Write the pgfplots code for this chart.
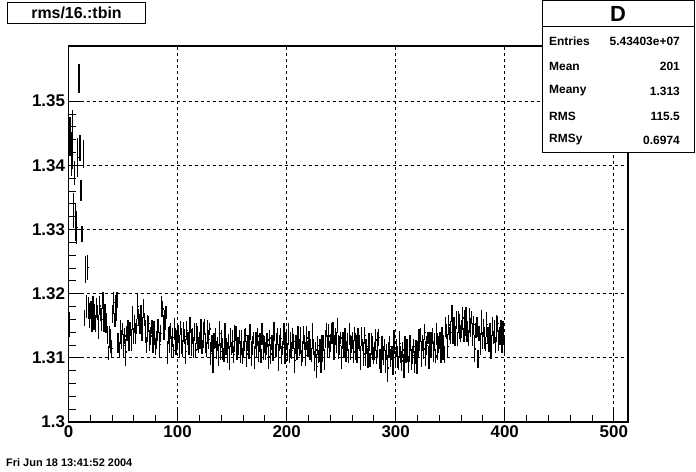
\documentclass[border=0pt]{standalone}
\usepackage{fontspec}
\setmainfont{Liberation Sans}
\usepackage{pgfplots}
\usepackage{pgfplotstable}
\pgfplotsset{compat=1.18}

\pgfplotstableread{
x y e
0.5 1.3152 0.0020
1.5 1.3445 0.0030
2.5 1.3418 0.0034
3.5 1.3440 0.0046
4.5 1.3330 0.0027
5.5 1.3388 0.0018
6.5 1.3312 0.0030
7.5 1.3303 0.0026
8.5 1.3412 0.0030
9.5 1.3535 0.0023
10.5 1.3427 0.0020
11.5 1.3361 0.0016
12.5 1.3293 0.0013
13.5 1.3418 0.0022
14.5 1.3162 0.0013
15.5 1.3237 0.0021
16.5 1.3180 0.0018
17.5 1.3241 0.0019
18.5 1.3178 0.0017
19.5 1.3166 0.0020
20.5 1.3175 0.0014
21.5 1.3157 0.0017
22.5 1.3185 0.0011
23.5 1.3164 0.0020
24.5 1.3153 0.0013
25.5 1.3178 0.0016
26.5 1.3171 0.0012
27.5 1.3148 0.0019
28.5 1.3181 0.0015
29.5 1.3168 0.0010
30.5 1.3160 0.0018
31.5 1.3189 0.0013
32.5 1.3162 0.0021
33.5 1.3172 0.0012
34.5 1.3154 0.0016
35.5 1.3136 0.0014
36.5 1.3107 0.0011
37.5 1.3133 0.0017
38.5 1.3126 0.0019
39.5 1.3115 0.0013
40.5 1.3169 0.0014
41.5 1.3186 0.0017
42.5 1.3159 0.0011
43.5 1.3178 0.0020
44.5 1.3190 0.0013
45.5 1.3123 0.0016
46.5 1.3113 0.0012
47.5 1.3140 0.0019
48.5 1.3129 0.0015
49.5 1.3145 0.0010
50.5 1.3119 0.0018
51.5 1.3134 0.0013
52.5 1.3109 0.0021
53.5 1.3138 0.0012
54.5 1.3143 0.0016
55.5 1.3124 0.0014
56.5 1.3145 0.0011
57.5 1.3128 0.0017
58.5 1.3162 0.0019
59.5 1.3134 0.0013
60.5 1.3153 0.0014
61.5 1.3138 0.0017
62.5 1.3150 0.0011
63.5 1.3180 0.0020
64.5 1.3163 0.0013
65.5 1.3153 0.0016
66.5 1.3170 0.0012
67.5 1.3145 0.0019
68.5 1.3177 0.0015
69.5 1.3160 0.0010
70.5 1.3141 0.0018
71.5 1.3120 0.0013
72.5 1.3145 0.0021
73.5 1.3153 0.0012
74.5 1.3127 0.0016
75.5 1.3134 0.0014
76.5 1.3148 0.0011
77.5 1.3124 0.0017
78.5 1.3139 0.0019
79.5 1.3118 0.0013
80.5 1.3128 0.0014
81.5 1.3143 0.0017
82.5 1.3150 0.0011
83.5 1.3121 0.0020
84.5 1.3138 0.0013
85.5 1.3180 0.0016
86.5 1.3176 0.0012
87.5 1.3147 0.0019
88.5 1.3159 0.0015
89.5 1.3171 0.0010
90.5 1.3108 0.0018
91.5 1.3135 0.0013
92.5 1.3128 0.0021
93.5 1.3142 0.0012
94.5 1.3118 0.0016
95.5 1.3132 0.0014
96.5 1.3111 0.0011
97.5 1.3145 0.0017
98.5 1.3124 0.0019
99.5 1.3129 0.0013
100.5 1.3137 0.0014
101.5 1.3119 0.0017
102.5 1.3147 0.0011
103.5 1.3126 0.0020
104.5 1.3115 0.0013
105.5 1.3140 0.0016
106.5 1.3133 0.0012
107.5 1.3110 0.0019
108.5 1.3143 0.0015
109.5 1.3130 0.0010
110.5 1.3122 0.0018
111.5 1.3151 0.0013
112.5 1.3124 0.0021
113.5 1.3134 0.0012
114.5 1.3116 0.0016
115.5 1.3141 0.0014
116.5 1.3112 0.0011
117.5 1.3138 0.0017
118.5 1.3131 0.0019
119.5 1.3120 0.0013
120.5 1.3127 0.0014
121.5 1.3144 0.0017
122.5 1.3117 0.0011
123.5 1.3136 0.0020
124.5 1.3148 0.0013
125.5 1.3123 0.0016
126.5 1.3113 0.0012
127.5 1.3140 0.0019
128.5 1.3129 0.0015
129.5 1.3145 0.0010
130.5 1.3107 0.0018
131.5 1.3122 0.0013
132.5 1.3097 0.0021
133.5 1.3126 0.0012
134.5 1.3131 0.0016
135.5 1.3112 0.0014
136.5 1.3121 0.0011
137.5 1.3104 0.0017
138.5 1.3138 0.0019
139.5 1.3110 0.0013
140.5 1.3129 0.0014
141.5 1.3114 0.0017
142.5 1.3105 0.0011
143.5 1.3135 0.0020
144.5 1.3118 0.0013
145.5 1.3108 0.0016
146.5 1.3125 0.0012
147.5 1.3100 0.0019
148.5 1.3132 0.0015
149.5 1.3115 0.0010
150.5 1.3126 0.0018
151.5 1.3105 0.0013
152.5 1.3130 0.0021
153.5 1.3138 0.0012
154.5 1.3112 0.0016
155.5 1.3119 0.0014
156.5 1.3133 0.0011
157.5 1.3109 0.0017
158.5 1.3124 0.0019
159.5 1.3103 0.0013
160.5 1.3113 0.0014
161.5 1.3128 0.0017
162.5 1.3135 0.0011
163.5 1.3106 0.0020
164.5 1.3123 0.0013
165.5 1.3114 0.0016
166.5 1.3140 0.0012
167.5 1.3107 0.0019
168.5 1.3119 0.0015
169.5 1.3131 0.0010
170.5 1.3100 0.0018
171.5 1.3127 0.0013
172.5 1.3120 0.0021
173.5 1.3134 0.0012
174.5 1.3110 0.0016
175.5 1.3124 0.0014
176.5 1.3103 0.0011
177.5 1.3137 0.0017
178.5 1.3116 0.0019
179.5 1.3121 0.0013
180.5 1.3110 0.0014
181.5 1.3121 0.0017
182.5 1.3128 0.0011
183.5 1.3102 0.0020
184.5 1.3131 0.0013
185.5 1.3106 0.0016
186.5 1.3124 0.0012
187.5 1.3114 0.0019
188.5 1.3141 0.0015
189.5 1.3112 0.0010
190.5 1.3120 0.0018
191.5 1.3133 0.0013
192.5 1.3100 0.0021
193.5 1.3123 0.0012
194.5 1.3130 0.0016
195.5 1.3105 0.0014
196.5 1.3116 0.0011
197.5 1.3137 0.0017
198.5 1.3109 0.0019
199.5 1.3127 0.0013
200.5 1.3109 0.0014
201.5 1.3137 0.0017
202.5 1.3103 0.0011
203.5 1.3120 0.0020
204.5 1.3111 0.0013
205.5 1.3130 0.0016
206.5 1.3125 0.0012
207.5 1.3096 0.0019
208.5 1.3121 0.0015
209.5 1.3106 0.0010
210.5 1.3132 0.0018
211.5 1.3116 0.0013
212.5 1.3127 0.0021
213.5 1.3100 0.0012
214.5 1.3110 0.0016
215.5 1.3135 0.0014
216.5 1.3123 0.0011
217.5 1.3104 0.0017
218.5 1.3131 0.0019
219.5 1.3114 0.0013
220.5 1.3128 0.0014
221.5 1.3113 0.0017
222.5 1.3104 0.0011
223.5 1.3134 0.0020
224.5 1.3117 0.0013
225.5 1.3095 0.0016
226.5 1.3112 0.0012
227.5 1.3087 0.0019
228.5 1.3119 0.0015
229.5 1.3102 0.0010
230.5 1.3111 0.0018
231.5 1.3090 0.0013
232.5 1.3115 0.0021
233.5 1.3123 0.0012
234.5 1.3097 0.0016
235.5 1.3129 0.0014
236.5 1.3143 0.0011
237.5 1.3119 0.0017
238.5 1.3134 0.0019
239.5 1.3113 0.0013
240.5 1.3123 0.0014
241.5 1.3138 0.0017
242.5 1.3145 0.0011
243.5 1.3116 0.0020
244.5 1.3133 0.0013
245.5 1.3124 0.0016
246.5 1.3150 0.0012
247.5 1.3117 0.0019
248.5 1.3119 0.0015
249.5 1.3131 0.0010
250.5 1.3100 0.0018
251.5 1.3127 0.0013
252.5 1.3120 0.0021
253.5 1.3134 0.0012
254.5 1.3110 0.0016
255.5 1.3124 0.0014
256.5 1.3103 0.0011
257.5 1.3137 0.0017
258.5 1.3116 0.0019
259.5 1.3121 0.0013
260.5 1.3127 0.0014
261.5 1.3109 0.0017
262.5 1.3137 0.0011
263.5 1.3116 0.0020
264.5 1.3105 0.0013
265.5 1.3130 0.0016
266.5 1.3123 0.0012
267.5 1.3100 0.0019
268.5 1.3133 0.0015
269.5 1.3120 0.0010
270.5 1.3106 0.0018
271.5 1.3135 0.0013
272.5 1.3108 0.0021
273.5 1.3118 0.0012
274.5 1.3100 0.0016
275.5 1.3125 0.0014
276.5 1.3096 0.0011
277.5 1.3122 0.0017
278.5 1.3115 0.0019
279.5 1.3104 0.0013
280.5 1.3111 0.0014
281.5 1.3128 0.0017
282.5 1.3101 0.0011
283.5 1.3120 0.0020
284.5 1.3132 0.0013
285.5 1.3098 0.0016
286.5 1.3088 0.0012
287.5 1.3115 0.0019
288.5 1.3104 0.0015
289.5 1.3120 0.0010
290.5 1.3094 0.0018
291.5 1.3109 0.0013
292.5 1.3084 0.0021
293.5 1.3113 0.0012
294.5 1.3118 0.0016
295.5 1.3099 0.0014
296.5 1.3108 0.0011
297.5 1.3091 0.0017
298.5 1.3125 0.0019
299.5 1.3097 0.0013
300.5 1.3116 0.0014
301.5 1.3101 0.0017
302.5 1.3092 0.0011
303.5 1.3122 0.0020
304.5 1.3105 0.0013
305.5 1.3095 0.0016
306.5 1.3112 0.0012
307.5 1.3087 0.0019
308.5 1.3119 0.0015
309.5 1.3102 0.0010
310.5 1.3111 0.0018
311.5 1.3090 0.0013
312.5 1.3115 0.0021
313.5 1.3123 0.0012
314.5 1.3097 0.0016
315.5 1.3104 0.0014
316.5 1.3118 0.0011
317.5 1.3094 0.0017
318.5 1.3109 0.0019
319.5 1.3088 0.0013
320.5 1.3113 0.0014
321.5 1.3128 0.0017
322.5 1.3135 0.0011
323.5 1.3106 0.0020
324.5 1.3123 0.0013
325.5 1.3114 0.0016
326.5 1.3140 0.0012
327.5 1.3107 0.0019
328.5 1.3119 0.0015
329.5 1.3131 0.0010
330.5 1.3100 0.0018
331.5 1.3127 0.0013
332.5 1.3120 0.0021
333.5 1.3134 0.0012
334.5 1.3110 0.0016
335.5 1.3124 0.0014
336.5 1.3103 0.0011
337.5 1.3137 0.0017
338.5 1.3116 0.0019
339.5 1.3121 0.0013
340.5 1.3127 0.0014
341.5 1.3109 0.0017
342.5 1.3137 0.0011
343.5 1.3116 0.0020
344.5 1.3105 0.0013
345.5 1.3148 0.0016
346.5 1.3141 0.0012
347.5 1.3118 0.0019
348.5 1.3151 0.0015
349.5 1.3138 0.0010
350.5 1.3140 0.0018
351.5 1.3169 0.0013
352.5 1.3142 0.0021
353.5 1.3152 0.0012
354.5 1.3134 0.0016
355.5 1.3159 0.0014
356.5 1.3130 0.0011
357.5 1.3156 0.0017
358.5 1.3149 0.0019
359.5 1.3138 0.0013
360.5 1.3145 0.0014
361.5 1.3162 0.0017
362.5 1.3135 0.0011
363.5 1.3154 0.0020
364.5 1.3166 0.0013
365.5 1.3141 0.0016
366.5 1.3131 0.0012
367.5 1.3158 0.0019
368.5 1.3147 0.0015
369.5 1.3163 0.0010
370.5 1.3137 0.0018
371.5 1.3152 0.0013
372.5 1.3114 0.0021
373.5 1.3143 0.0012
374.5 1.3148 0.0016
375.5 1.3098 0.0014
376.5 1.3138 0.0011
377.5 1.3121 0.0017
378.5 1.3155 0.0019
379.5 1.3127 0.0013
380.5 1.3146 0.0014
381.5 1.3131 0.0017
382.5 1.3122 0.0011
383.5 1.3152 0.0020
384.5 1.3135 0.0013
385.5 1.3125 0.0016
386.5 1.3142 0.0012
387.5 1.3117 0.0019
388.5 1.3149 0.0015
389.5 1.3132 0.0010
390.5 1.3141 0.0018
391.5 1.3120 0.0013
392.5 1.3145 0.0021
393.5 1.3153 0.0012
394.5 1.3127 0.0016
395.5 1.3134 0.0014
396.5 1.3148 0.0011
397.5 1.3124 0.0017
398.5 1.3139 0.0019
399.5 1.3118 0.0013
}\prof

\begin{document}
\begin{tikzpicture}
\path[use as bounding box] (0,0) rectangle (696bp,472bp);
\begin{axis}[
  at={(68.5bp,50bp)}, anchor=south west,
  scale only axis, width=559.5bp, height=376bp,
  xmin=0, xmax=513, ymin=1.3, ymax=1.3586,
  axis line style={line width=1.2bp},
  tick align=inside, xtick pos=bottom, ytick pos=left,
  xtick={0,100,200,300,400,500},
  ytick={1.3,1.31,1.32,1.33,1.34,1.35},
  minor x tick num=4, minor y tick num=4,
  major tick length=14bp, minor tick length=7bp,
  tick style={black, line width=1bp},
  grid=major,
  major grid style={black, line width=0.7bp, dash pattern=on 3bp off 3bp},
  ticklabel style={font=\fontsize{17}{17}\selectfont\bfseries},
  /pgf/number format/assume math mode=true,
  yticklabel style={/pgf/number format/fixed},
]
\addplot[draw=none, mark=none,
  error bars/.cd, y dir=both, y explicit, x dir=both, x fixed=0.5,
  error mark=none, error bar style={draw=black, solid, line width=1.3bp}]
  table[x=x, y=y, y error=e]{\prof};
\end{axis}
% title box
\node[draw, line width=1bp, anchor=north west, minimum width=138bp, minimum height=21bp,
  inner sep=0pt, font=\fontsize{16}{16}\selectfont\bfseries] at (7bp,470bp) {rms/16.:tbin};
% stats box
\draw[line width=1bp, fill=white] (542bp,319bp) rectangle (694bp,471.5bp);
\draw[line width=1bp] (542bp,445bp) -- (694bp,445bp);
\node[font=\fontsize{22}{22}\selectfont\bfseries, inner sep=0pt] at (618bp,458bp) {D};
\begin{scope}[every node/.style={inner sep=0pt, font=\fontsize{12}{12}\selectfont\bfseries}]
\node[anchor=west] at (549bp,431bp) {Entries};
\node[anchor=east] at (680bp,431bp) {5.43403e+07};
\node[anchor=west] at (549bp,406bp) {Mean};
\node[anchor=east] at (680bp,406bp) {201};
\node[anchor=west] at (549bp,381bp) {Meany};
\node[anchor=east] at (680bp,381bp) {1.313};
\node[anchor=west] at (549bp,356bp) {RMS};
\node[anchor=east] at (680bp,356bp) {115.5};
\node[anchor=west] at (549bp,332bp) {RMSy};
\node[anchor=east] at (680bp,332bp) {0.6974};
\end{scope}
% date
\node[anchor=west, inner sep=0pt, font=\fontsize{11}{11}\selectfont\bfseries] at (6bp,9bp) {Fri Jun 18 13:41:52 2004};
\end{tikzpicture}
\end{document}
